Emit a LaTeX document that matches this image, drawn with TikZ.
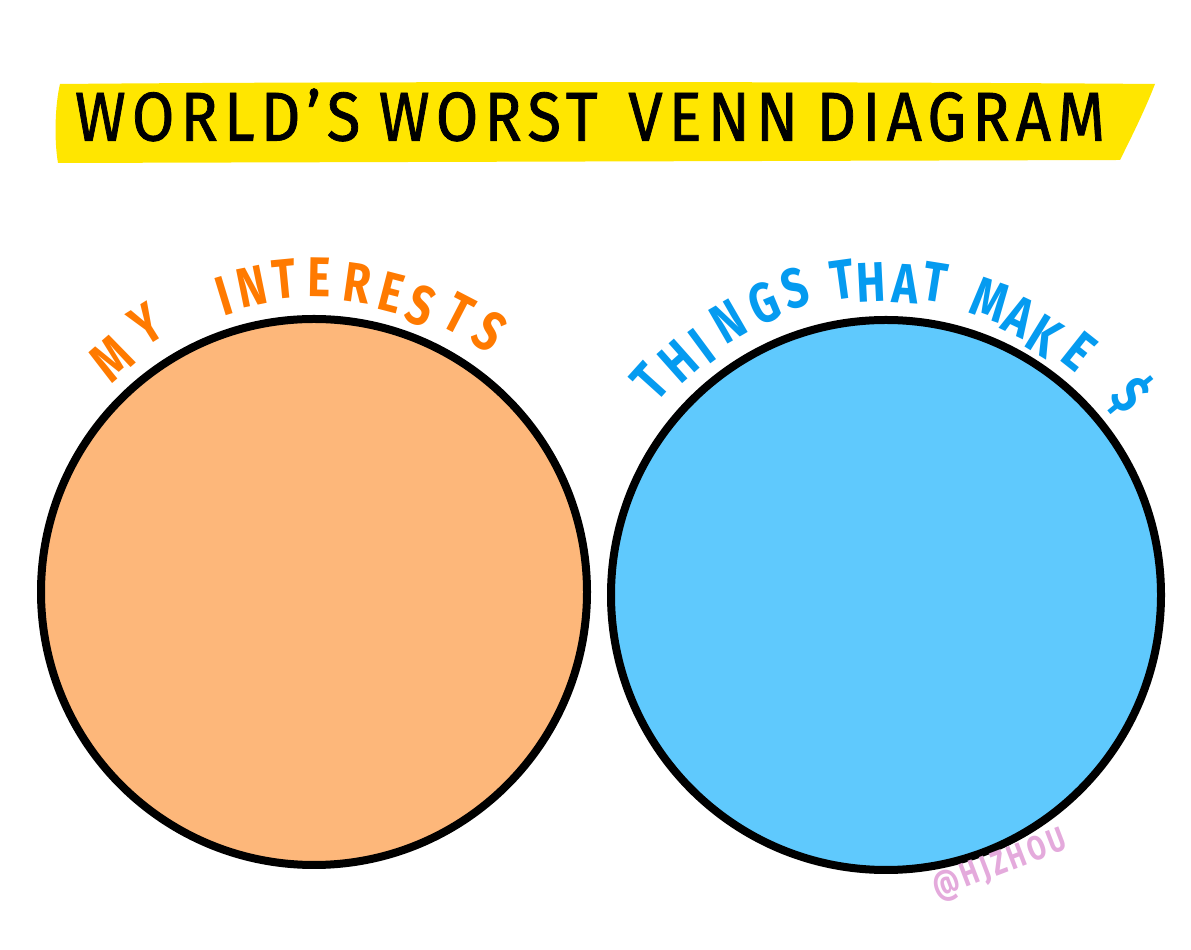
\documentclass[tikz,border=0pt]{standalone}
\usepackage{fontspec}
\usepackage{graphicx}
\setmainfont{Fira Sans}
\newfontfamily\titlefont[FakeBold=1.2,LetterSpace=10]{Fira Sans}
\definecolor{peach}{RGB}{253,183,122}
\definecolor{sky}{RGB}{95,201,253}
\definecolor{orangetxt}{RGB}{255,122,0}
\definecolor{bluetxt}{RGB}{5,155,240}
\definecolor{pinktxt}{RGB}{228,170,220}
\definecolor{band}{RGB}{255,230,0}
\tikzset{
  venn/.style={circle, draw=black, line width=8pt, inner sep=0pt},
  lettr/.style={inner sep=0pt, font=\fontsize{56}{56}\selectfont\bfseries},
  otxt/.style={lettr, text=orangetxt},
  btxt/.style={lettr, text=bluetxt}
}
\newcommand{\narrow}[1]{\scalebox{0.78}[1]{#1}}
\begin{document}
\begin{tikzpicture}[x=1pt,y=1pt]
\useasboundingbox (0,0) rectangle (1191,950);
% yellow band
\fill[band] (60,866) .. controls (400,869) and (900,868) .. (1155,866)
  .. controls (1145,840) and (1130,810) .. (1120,790)
  -- (58,787) .. controls (54,810) and (55,845) .. (60,866) -- cycle;
\node[inner sep=0pt] (title) at (590,835)
  {\resizebox{1030pt}{52pt}{\titlefont WORLD’S\hspace{0.3em}WORST\hspace{0.5em}VENN\hspace{0.3em}DIAGRAM}};
% circles
\node[venn, fill=peach, minimum size=546pt] (L) at (314,358) {};
\node[venn, fill=sky, minimum size=550pt] (R) at (886,355) {};
% curved labels, letter by letter
\foreach \ch/\a/\r [count=\i] in {M/131/309,Y/122/316,I/107/309,N/101.5/312,T/95.5/314,E/89/315,R/82/312,E/75.5/309,S/69.5/306,T/62.6/314,S/56/314}
  \node[otxt, rotate=\a-90] (o\i) at ([shift={(\a:\r)}]L.center) {\narrow{\ch}};
\foreach \ch/\a/\r [count=\i] in {T/138/318,H/131.6/312,I/126.5/310,N/120/316,G/112.7/316,S/106.5/320,T/97.8/318,H/92.8/313,A/86.5/312,T/81/317,M/70.6/313,A/64.5/309,K/58.5/304,E/51.6/311,\$/39.4/316}
  \node[btxt, rotate=\a-90] (b\i) at ([shift={(\a:\r)}]R.center) {\narrow{\ch}};
% signature
\node[rotate=21, text=pinktxt, inner sep=0pt, font=\fontsize{34}{34}\selectfont\bfseries] (sig) at (1000,84) {\narrow{\addfontfeature{LetterSpace=12}@HJZHOU}};
\end{tikzpicture}
\end{document}
